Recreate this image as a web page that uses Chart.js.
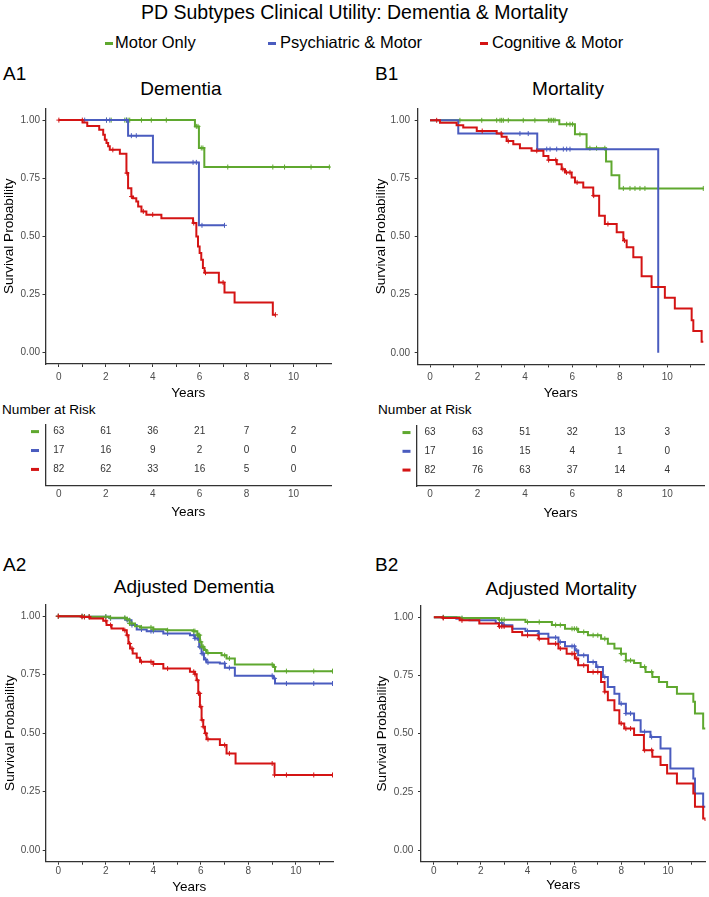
<!DOCTYPE html>
<html><head><meta charset="utf-8">
<script src="https://cdn.jsdelivr.net/npm/chart.js@4.4.1/dist/chart.umd.min.js"></script>
<style>
body{margin:0;background:#fff;}
#wrap{position:relative;width:709px;height:897px;overflow:hidden;font-family:"Liberation Sans",Arial,sans-serif;color:#000;background:#fff;}
.t{position:absolute;white-space:nowrap;line-height:1;}
canvas{position:absolute;}
.mk{position:absolute;width:8px;height:3px;}
</style></head><body>
<div id="wrap">
<div class="t" style="left:0;width:709px;text-align:center;top:2.5px;font-size:19.5px;">PD Subtypes Clinical Utility: Dementia &amp; Mortality</div>
<div class="mk" style="left:105px;top:41.5px;background:#5FA82F"></div>
<div class="t" style="left:115px;top:34px;font-size:16.5px;">Motor Only</div>
<div class="mk" style="left:268px;top:41.5px;background:#4A5CBF"></div>
<div class="t" style="left:280px;top:34px;font-size:16.5px;">Psychiatric &amp; Motor</div>
<div class="mk" style="left:480px;top:41.5px;background:#D41414"></div>
<div class="t" style="left:492px;top:34px;font-size:16.5px;">Cognitive &amp; Motor</div>

<div class="t" style="left:3px;top:63.7px;font-size:19px;">A1</div>
<div class="t" style="left:375px;top:63.7px;font-size:19px;">B1</div>
<div class="t" style="left:3px;top:554.7px;font-size:19px;">A2</div>
<div class="t" style="left:375px;top:554.7px;font-size:19px;">B2</div>

<div class="t" style="left:31px;width:300px;text-align:center;top:79.2px;font-size:19px;">Dementia</div>
<div class="t" style="left:418px;width:300px;text-align:center;top:78.7px;font-size:19px;">Mortality</div>
<div class="t" style="left:44px;width:300px;text-align:center;top:577.2px;font-size:19px;">Adjusted Dementia</div>
<div class="t" style="left:411px;width:300px;text-align:center;top:578.7px;font-size:19px;">Adjusted Mortality</div>

<div class="t" style="left:2px;top:403.3px;font-size:13.6px;">Number at Risk</div>
<div class="t" style="left:378px;top:403.3px;font-size:13.6px;">Number at Risk</div>

<canvas id="a1" width="345" height="305" style="left:0;top:98px"></canvas>
<canvas id="b1" width="349" height="305" style="left:360px;top:98px"></canvas>
<canvas id="ra" width="345" height="110" style="left:0;top:415px"></canvas>
<canvas id="rb" width="349" height="110" style="left:360px;top:415px"></canvas>
<canvas id="a2" width="345" height="302" style="left:0;top:595px"></canvas>
<canvas id="b2" width="349" height="302" style="left:360px;top:595px"></canvas>
</div>
<script>
// ---------- tick data ----------
const XTICKS = [0,1,2,3,4,5,6,7,8,9,10,11];
const XLABELS = ['0','','2','','4','','6','','8','','10',''];
const YTICKS = [0,0.25,0.5,0.75,1];
const YLABELS = ['0.00','0.25','0.50','0.75','1.00'];
const RISK_TIMES = [0,2,4,6,8,10];

// ---------- A1 Dementia ----------
const a1MotorT = [0,5.8,5.97,6.2,11.53];
const a1MotorS = [1,0.973,0.88,0.798,0.798];
const a1MotorC = [2.03,2.23,2.81,2.88,2.95,3.02,3.52,3.94,4.58,5.86,5.93,6.07,6.14,7.2,9.12,9.62,10.75,11.53];
const a1PsychT = [0,2.95,4.01,5.97,7.06];
const a1PsychS = [1,0.933,0.818,0.547,0.547];
const a1PsychC = [1.1,2.03,2.17,2.88,3.09,3.3,5.72,5.86,6.1,7.06];
const a1CogT = [0,1.01,1.21,1.72,1.89,1.96,2.03,2.10,2.17,2.60,2.88,2.95,3.09,3.16,3.30,3.38,3.52,3.73,4.37,5.72,5.86,5.93,6.00,6.07,6.14,6.21,6.82,7.06,7.49,9.12,9.23];
const a1CogS = [1,0.990,0.975,0.958,0.937,0.915,0.901,0.887,0.872,0.855,0.772,0.707,0.671,0.664,0.650,0.628,0.607,0.593,0.578,0.557,0.499,0.456,0.428,0.399,0.363,0.343,0.301,0.258,0.215,0.162,0.162];
const a1CogC = [0,1.0,2.3,2.9,3.1,3.6,4.0,5.75,6.25,7.0,9.23];

// ---------- B1 Mortality ----------
const b1MotorT = [0,5.45,6.11,6.6,7.42,7.65,7.98,11.52];
const b1MotorS = [1,0.983,0.94,0.88,0.823,0.764,0.707,0.707];
const b1MotorC = [1.26,2.18,2.81,2.95,3.02,3.09,3.3,3.93,4.42,4.99,5.06,5.13,5.2,5.27,5.76,5.9,6.01,6.32,6.74,7.02,7.37,8.15,8.43,8.64,8.85,9.06,11.52];
const b1PsychT = [0,1.19,4.52,9.62];
const b1PsychS = [1,0.943,0.876,0];
const b1PsychC = [3.79,4.14,4.92,5.06,5.34,5.62,5.76,5.9];
const b1CogT = [0,0.42,1.12,1.40,1.97,2.81,3.02,3.23,3.51,3.79,4.28,4.78,4.99,5.34,5.55,5.69,5.97,6.11,6.46,6.88,7.13,7.37,7.87,8.15,8.29,8.57,8.92,9.34,9.90,10.32,11.03,11.10,11.45,11.52];
const b1CogS = [1,0.99,0.979,0.969,0.954,0.943,0.929,0.911,0.897,0.88,0.869,0.847,0.829,0.811,0.79,0.776,0.754,0.733,0.711,0.676,0.59,0.554,0.519,0.483,0.454,0.411,0.329,0.283,0.237,0.19,0.14,0.094,0.047,0.047];
const b1CogC = [0.28,2.2,3.0,3.3,4.5,5.0,5.3,5.6,5.75,5.9,6.2,6.9,7.5,8.2];

// ---------- Risk tables ----------
const riskA1Motor = [63,61,36,21,7,2];
const riskA1Psych = [17,16,9,2,0,0];
const riskA1Cog = [82,62,33,16,5,0];
const riskB1Motor = [63,63,51,32,13,3];
const riskB1Psych = [17,16,15,4,1,0];
const riskB1Cog = [82,76,63,37,14,4];

// ---------- A2 Adjusted Dementia ----------
const a2MotorT = [0,1.05,2.17,2.88,3.0,3.23,3.44,4.0,4.56,5.68,5.85,5.96,6.03,6.13,6.24,6.87,7.08,7.43,9.05,9.12,11.54];
const a2MotorS = [1,0.998,0.993,0.987,0.969,0.957,0.952,0.944,0.94,0.936,0.919,0.89,0.869,0.855,0.843,0.833,0.819,0.793,0.783,0.765,0.765];
const a2PsychT = [0,1.05,2.17,2.88,3.08,3.3,3.72,4.42,5.54,5.75,5.93,6.03,6.13,6.24,6.8,7.01,7.43,9.05,9.12,11.54];
const a2PsychS = [1,0.998,0.991,0.983,0.962,0.943,0.936,0.926,0.919,0.905,0.869,0.84,0.815,0.802,0.798,0.779,0.745,0.734,0.712,0.712];
const a2CogT = [0,0.98,1.33,1.89,2.03,2.24,2.73,2.88,2.95,3.02,3.13,3.3,3.44,4.0,4.42,5.54,5.75,5.82,5.89,5.96,6.03,6.1,6.17,6.24,6.8,7.08,7.46,9.1,11.54];
const a2CogS = [1,0.997,0.99,0.98,0.962,0.947,0.94,0.919,0.883,0.862,0.84,0.822,0.805,0.795,0.776,0.762,0.752,0.726,0.67,0.613,0.556,0.527,0.499,0.474,0.449,0.413,0.37,0.321,0.321];
const a2Censor = [0,1.0,1.1,1.3,2.0,2.2,2.8,2.9,3.0,3.1,3.5,3.9,4.0,4.6,5.7,5.75,5.85,5.9,5.95,6.0,6.05,6.1,6.2,6.3,7.0,7.2,9.0,9.1,9.6,10.75,11.54];

// ---------- B2 Adjusted Mortality ----------
const b2MotorT = [0,1.1,2.78,3.91,5.04,5.6,6.16,6.58,7.14,7.43,7.71,7.99,8.2,8.55,8.83,9.04,9.33,9.61,9.96,10.38,11.08,11.15,11.5,11.6];
const b2MotorS = [1,0.997,0.99,0.98,0.967,0.951,0.937,0.923,0.908,0.887,0.866,0.844,0.815,0.804,0.787,0.765,0.744,0.722,0.701,0.672,0.637,0.587,0.522,0.522];
const b2PsychT = [0,0.96,1.52,2.64,2.93,3.35,3.91,4.47,4.89,5.32,5.6,6.02,6.16,6.58,6.93,7.22,7.43,7.71,7.92,8.2,8.55,8.83,9.25,9.68,10.1,11.08,11.15,11.5,11.6];
const b2PsychS = [1,0.994,0.987,0.976,0.966,0.951,0.941,0.93,0.913,0.894,0.876,0.858,0.837,0.808,0.787,0.744,0.701,0.672,0.629,0.587,0.558,0.508,0.486,0.436,0.35,0.308,0.243,0.186,0.186];
const b2CogT = [0,0.39,1.1,1.94,2.78,3.35,3.77,4.47,4.89,5.32,5.67,6.02,6.16,6.58,7.14,7.29,7.43,7.71,7.92,8.13,8.55,8.97,9.33,9.68,9.96,10.38,11.08,11.15,11.5,11.6];
const b2CogS = [1,0.997,0.987,0.973,0.961,0.937,0.923,0.908,0.887,0.866,0.844,0.823,0.794,0.765,0.722,0.68,0.644,0.601,0.544,0.522,0.494,0.429,0.401,0.365,0.329,0.286,0.243,0.186,0.136,0.125];
const b2Censor = [0.4,1.2,2.8,2.9,3.0,4.0,4.5,5.2,5.4,5.9,6.0,6.1,6.4,6.8,7.0,7.3,8.0,8.2,8.4,9.0,9.3];

// ---------- styling ----------
const FF = '"Liberation Sans", Arial, sans-serif';
const GREEN = '#5FA82F', BLUE = '#4A5CBF', RED = '#D41414';
const AX = '#333333', TICKC = '#4D4D4D';

function stepAt(t, s, x) { let v = s[0]; for (let i = 0; i < t.length; i++) { if (t[i] <= x + 1e-9) v = s[i]; } return v; }
function curve(t, s) { return t.map((x, i) => ({x: x, y: s[i]})); }
function marks(t, s, c) { return c.map(x => ({x: x, y: stepAt(t, s, x)})); }

function kmChart(id, groups, g) {
  const ds = [];
  groups.forEach(gr => {
    ds.push({label: gr.name, data: curve(gr.t, gr.s), showLine: true, stepped: true,
      borderColor: gr.color, backgroundColor: gr.color, borderWidth: 2, pointRadius: 0, pointHoverRadius: 0,
      fill: false, order: gr.order * 2});
    ds.push({label: gr.name + ' (censored)', data: marks(gr.t, gr.s, gr.c), showLine: false,
      pointStyle: 'cross', pointRadius: 2.5, pointHoverRadius: 2.5, borderColor: gr.color, backgroundColor: gr.color,
      pointBorderWidth: 1, borderWidth: 1, order: gr.order * 2 - 1});
  });
  new Chart(document.getElementById(id), {
    type: 'scatter',
    data: {datasets: ds},
    options: {
      responsive: false, animation: false, events: [],
      layout: {padding: {top: g.pt, right: g.pr, left: 0, bottom: 0}},
      plugins: {legend: {display: false}, tooltip: {enabled: false}, title: {display: false}},
      scales: {
        x: {type: 'linear', min: g.xmin, max: g.xmax,
          afterBuildTicks: s => { s.ticks = XTICKS.map(v => ({value: v})); },
          afterFit: s => { s.height = g.xh; },
          ticks: {callback: (v, i) => XLABELS[i], color: TICKC, font: {size: 10, family: FF}, padding: g.xtp, maxRotation: 0, autoSkip: false},
          grid: {display: true, drawOnChartArea: false, drawTicks: true, tickLength: 3, color: AX, lineWidth: 1},
          border: {display: true, color: AX, width: 1.3},
          title: {display: true, text: 'Years', color: '#000', font: {size: 13.5, family: FF}, padding: {top: 0, bottom: g.xtb}}
        },
        y: {type: 'linear', min: -0.05, max: 1.05,
          afterBuildTicks: s => { s.ticks = YTICKS.map(v => ({value: v})); },
          afterFit: s => { s.width = g.yw; },
          ticks: {callback: (v, i) => YLABELS[i], color: TICKC, font: {size: 10, family: FF}, padding: g.ytp},
          grid: {display: true, drawOnChartArea: false, drawTicks: true, tickLength: 3, color: AX, lineWidth: 1},
          border: {display: true, color: AX, width: 1.3},
          title: {display: true, text: 'Survival Probability', color: '#000', font: {size: 13.6, family: FF}, padding: {top: g.ytt, bottom: 0}}
        }
      }
    }
  });
}

const riskTextPlugin = {
  id: 'riskText',
  afterDatasetsDraw(chart) {
    const ctx = chart.ctx;
    const ys = chart.scales.y;
    ctx.save();
    chart.data.datasets.forEach((d, i) => {
      const meta = chart.getDatasetMeta(i);
      ctx.font = '10px ' + FF;
      ctx.fillStyle = '#333333';
      ctx.textAlign = 'center';
      ctx.textBaseline = 'middle';
      meta.data.forEach((el, j) => { ctx.fillText(String(d.counts[j]), el.x, el.y); });
      const yp = ys.getPixelForValue(d.row);
      ctx.fillStyle = d.mark;
      ctx.fillRect(chart.chartArea.left - 14.5, yp - 1.5, 8, 3);
    });
    ctx.restore();
  }
};

function riskChart(id, rows, g) {
  const ds = rows.map(r => ({label: r.name, data: RISK_TIMES.map(t => ({x: t, y: r.row})), counts: r.n, row: r.row, mark: r.color,
    pointRadius: 0, pointHoverRadius: 0, showLine: false}));
  new Chart(document.getElementById(id), {
    type: 'scatter',
    data: {datasets: ds},
    plugins: [riskTextPlugin],
    options: {
      responsive: false, animation: false, events: [],
      layout: {padding: {top: g.pt, right: g.pr, left: 0, bottom: 0}},
      plugins: {legend: {display: false}, tooltip: {enabled: false}},
      scales: {
        x: {type: 'linear', min: g.xmin, max: g.xmax,
          afterBuildTicks: s => { s.ticks = RISK_TIMES.map(v => ({value: v})); },
          afterFit: s => { s.height = g.xh; },
          ticks: {color: TICKC, font: {size: 10, family: FF}, padding: g.xtp, maxRotation: 0, autoSkip: false},
          grid: {display: false, drawTicks: false},
          border: {display: true, color: AX, width: 1.3},
          title: {display: true, text: 'Years', color: '#000', font: {size: 13.5, family: FF}, padding: {top: 0, bottom: g.xtb}}
        },
        y: {type: 'linear', min: 0.15, max: 3.35,
          afterFit: s => { s.width = g.yw; },
          ticks: {display: false},
          grid: {display: false, drawTicks: false},
          border: {display: true, color: AX, width: 1.3}
        }
      }
    }
  });
}

kmChart('a1', [
  {name: 'Motor Only', t: a1MotorT, s: a1MotorS, c: a1MotorC, color: GREEN, order: 3},
  {name: 'Psychiatric & Motor', t: a1PsychT, s: a1PsychS, c: a1PsychC, color: BLUE, order: 2},
  {name: 'Cognitive & Motor', t: a1CogT, s: a1CogS, c: a1CogC, color: RED, order: 1}
], {pt: 10.5, pr: 14, xh: 39, yw: 45.5, xmin: -0.57, xmax: 11.6, xtp: 4, xtb: 1.4, ytp: 2.5, ytt: 1.1});

kmChart('b1', [
  {name: 'Motor Only', t: b1MotorT, s: b1MotorS, c: b1MotorC, color: GREEN, order: 3},
  {name: 'Psychiatric & Motor', t: b1PsychT, s: b1PsychS, c: b1PsychC, color: BLUE, order: 2},
  {name: 'Cognitive & Motor', t: b1CogT, s: b1CogS, c: b1CogC, color: RED, order: 1}
], {pt: 10, pr: 5, xh: 38.6, yw: 57.7, xmin: -0.52, xmax: 11.55, xtp: 3.5, xtb: 1.4, ytp: 4.7, ytt: 13.1});

riskChart('ra', [
  {name: 'Motor Only', n: riskA1Motor, row: 3, color: GREEN},
  {name: 'Psychiatric & Motor', n: riskA1Psych, row: 2, color: BLUE},
  {name: 'Cognitive & Motor', n: riskA1Cog, row: 1, color: RED}
], {pt: 10, pr: 14, xh: 39.5, yw: 45.5, xmin: -0.57, xmax: 11.6, xtp: 2.5, xtb: 4.4});

riskChart('rb', [
  {name: 'Motor Only', n: riskB1Motor, row: 3, color: GREEN},
  {name: 'Psychiatric & Motor', n: riskB1Psych, row: 2, color: BLUE},
  {name: 'Cognitive & Motor', n: riskB1Cog, row: 1, color: RED}
], {pt: 11, pr: 5, xh: 39, yw: 57, xmin: -0.55, xmax: 11.55, xtp: 2, xtb: 3.9});

kmChart('a2', [
  {name: 'Motor Only', t: a2MotorT, s: a2MotorS, c: a2Censor, color: GREEN, order: 2},
  {name: 'Psychiatric & Motor', t: a2PsychT, s: a2PsychS, c: a2Censor, color: BLUE, order: 3},
  {name: 'Cognitive & Motor', t: a2CogT, s: a2CogS, c: a2Censor, color: RED, order: 1}
], {pt: 9.5, pr: 12, xh: 35.3, yw: 45.7, xmin: -0.53, xmax: 11.56, xtp: 1, xtb: 1.9, ytp: 2.5, ytt: 1.6});

kmChart('b2', [
  {name: 'Motor Only', t: b2MotorT, s: b2MotorS, c: b2Censor, color: GREEN, order: 2},
  {name: 'Psychiatric & Motor', t: b2PsychT, s: b2PsychS, c: b2Censor, color: BLUE, order: 3},
  {name: 'Cognitive & Motor', t: b2CogT, s: b2CogS, c: b2Censor, color: RED, order: 1}
], {pt: 10.4, pr: 0, xh: 35.3, yw: 61, xmin: -0.55, xmax: 11.6, xtp: 1, xtb: 3.9, ytp: 4.7, ytt: 13.6});
</script>
</body></html>
